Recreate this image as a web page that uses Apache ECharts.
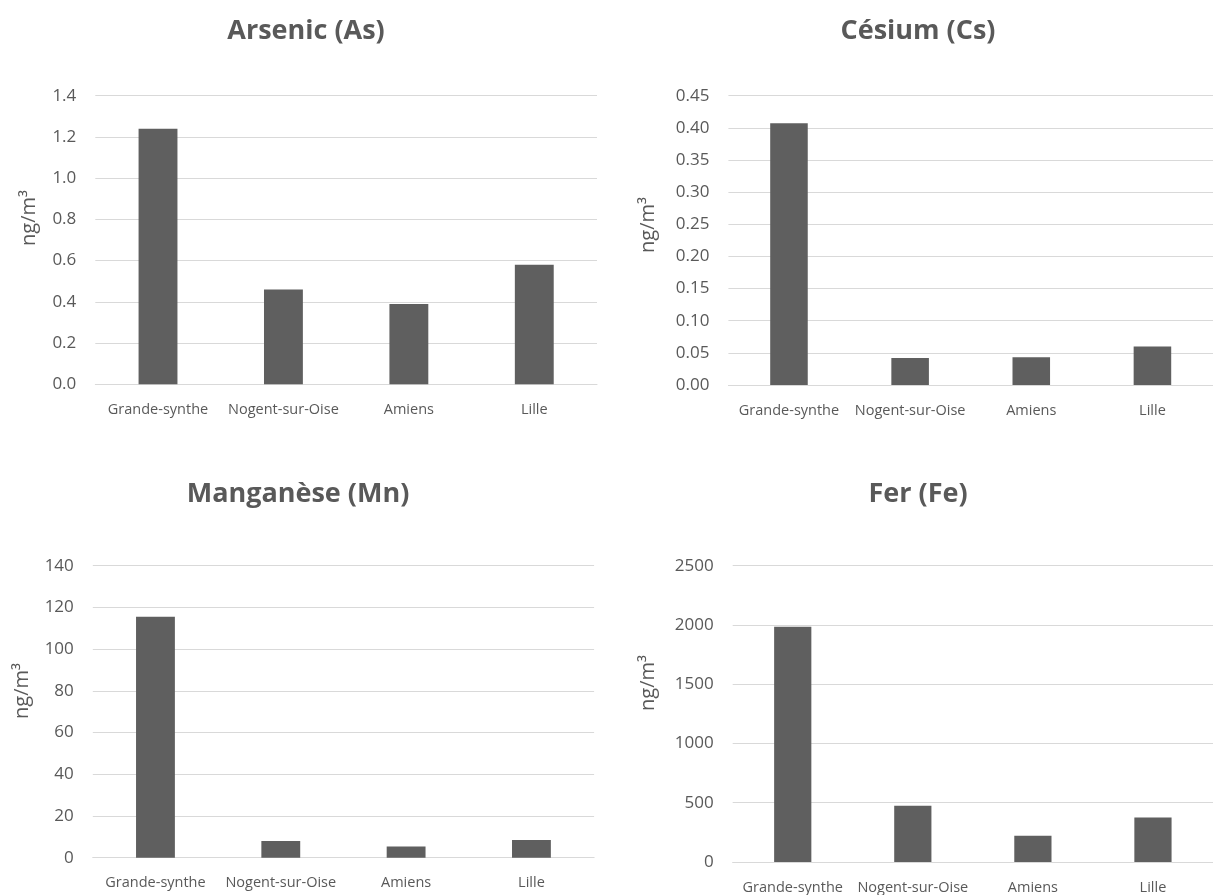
<!DOCTYPE html>
<html>
<head>
<meta charset="utf-8">
<script src="https://cdn.jsdelivr.net/npm/echarts@6/dist/echarts.min.js"></script>
<style>
html,body{margin:0;padding:0;background:#fff;}
#chart{width:1213px;height:895px;}
</style>
</head>
<body>
<div id="chart"></div>
<script>
// ---- Data ----
const categories = ['Grande-synthe', 'Nogent-sur-Oise', 'Amiens', 'Lille'];
const titles = ['Arsenic (As)', 'Césium (Cs)', 'Manganèse (Mn)', 'Fer (Fe)'];
const arsenic = [1.24, 0.46, 0.39, 0.58];
const cesium = [0.407, 0.042, 0.043, 0.060];
const manganese = [115.5, 8.0, 5.4, 8.5];
const fer = [1985, 475, 222, 375];
const yMax = [1.4, 0.45, 140, 2500];
const yInterval = [0.2, 0.05, 20, 500];
const yDecimals = [1, 2, 0, 0];
const unitLabel = 'ng/m³';

// ---- Layout ----
const grids = [
  {left: 95.3, top: 95.7, width: 501.7, height: 288.6},
  {left: 728.4, top: 95.7, width: 494, height: 289.3},
  {left: 92.8, top: 565.7, width: 501.3, height: 292},
  {left: 732.7, top: 565.7, width: 485, height: 299.6}
];
const titlePos = [[306, 31], [918, 31], [298, 494], [918, 494]];
const unitPos = [[29, 218], [648, 225], [22, 691], [648, 683]];
const seriesData = [arsenic, cesium, manganese, fer];

const FONT = '"Open Sans", "Noto Sans", sans-serif';
const TXT = '#595959';
const GRID = '#d9d9d9';
const BAR = '#5f5f5f';

const chart = echarts.init(document.getElementById('chart'), null, {renderer: 'canvas'});

const option = {
  backgroundColor: '#ffffff',
  animation: false,
  grid: grids.map(g => Object.assign({containLabel: false}, g)),
  xAxis: grids.map((g, i) => ({
    type: 'category',
    gridIndex: i,
    data: categories,
    axisLine: {show: true, lineStyle: {color: GRID, width: 1}},
    axisTick: {show: false},
    axisLabel: {color: TXT, fontFamily: FONT, fontSize: 14.5, margin: 18, interval: 0},
    splitLine: {show: false}
  })),
  yAxis: grids.map((g, i) => ({
    type: 'value',
    gridIndex: i,
    min: 0,
    max: yMax[i],
    interval: yInterval[i],
    axisLine: {show: false},
    axisTick: {show: false},
    axisLabel: {
      color: TXT, fontFamily: FONT, fontSize: 17, margin: 19,
      formatter: v => Number(v).toFixed(yDecimals[i])
    },
    splitLine: {show: true, lineStyle: {color: GRID, width: 1}}
  })),
  series: seriesData.map((d, i) => ({
    type: 'bar',
    xAxisIndex: i,
    yAxisIndex: i,
    data: d,
    barWidth: '31%',
    itemStyle: {color: BAR}
  })),
  graphic: [
    ...titles.map((t, i) => ({
      type: 'text',
      x: titlePos[i][0],
      y: titlePos[i][1],
      style: {
        text: t, fill: TXT, font: 'bold 27px ' + FONT,
        textAlign: 'center', textVerticalAlign: 'middle'
      }
    })),
    ...unitPos.map(p => ({
      type: 'text',
      x: p[0],
      y: p[1],
      rotation: Math.PI / 2,
      style: {
        text: unitLabel, fill: TXT, font: '20px ' + FONT,
        textAlign: 'center', textVerticalAlign: 'middle'
      }
    }))
  ]
};
chart.setOption(option);
</script>
</body>
</html>
